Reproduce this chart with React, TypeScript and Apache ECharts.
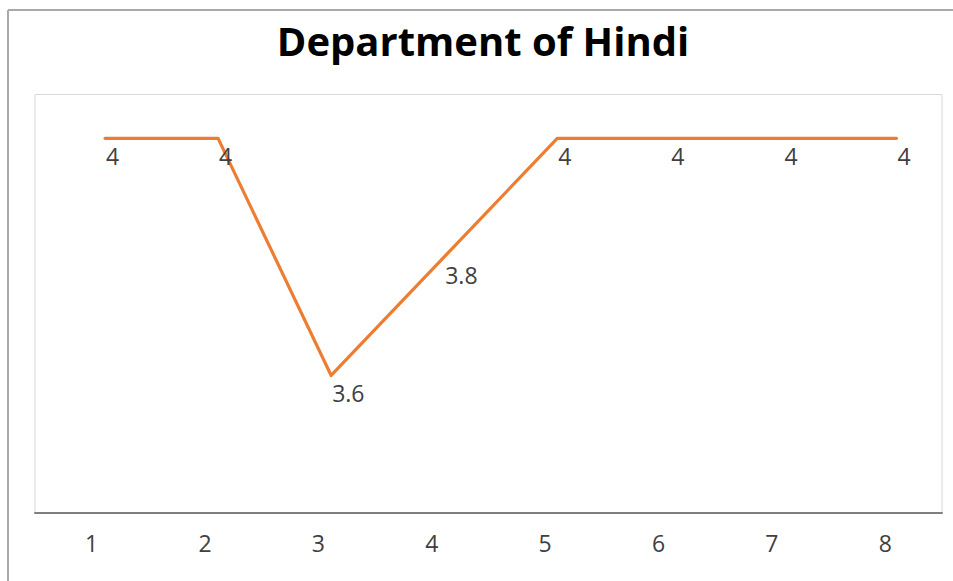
import React, { useEffect, useRef } from "react";
import * as echarts from "echarts";

const categories: string[] = ["1", "2", "3", "4", "5", "6", "7", "8"];
const values: number[] = [4, 4, 3.6, 3.8, 4, 4, 4, 4];
const titleText = "Department of Hindi";

export default function App() {
  const ref = useRef<HTMLDivElement>(null);
  useEffect(() => {
    if (!ref.current) return;
    const chart = echarts.init(ref.current, null, { renderer: "svg" });
    const font = "'Open Sans', 'Noto Sans', sans-serif";
    chart.setOption({
      animation: false,
      backgroundColor: "#ffffff",
      title: {
        text: titleText,
        left: 478,
        top: 15,
        textAlign: "center",
        textStyle: { fontFamily: font, fontWeight: "bold", fontSize: 40, color: "#000000" },
      },
      graphic: [
        { type: "line", shape: { x1: 8, y1: 10, x2: 953, y2: 10 }, style: { stroke: "#a9a9a9", lineWidth: 2 } },
        { type: "line", shape: { x1: 8, y1: 10, x2: 8, y2: 581 }, style: { stroke: "#a9a9a9", lineWidth: 2 } },
      ],
      grid: [
        { left: 35, top: 94.5, width: 907, height: 418.5, show: true, borderColor: "#d9d9d9", borderWidth: 1, backgroundColor: "transparent" },
        { left: 48.5, top: 94.5, width: 907, height: 418.5, show: false },
      ],
      xAxis: [
        {
          type: "category",
          gridIndex: 0,
          data: categories,
          boundaryGap: true,
          axisLine: { show: true, lineStyle: { color: "#7f7f7f", width: 2 } },
          axisTick: { show: false },
          axisLabel: { fontFamily: font, fontSize: 23, color: "#404040", margin: 18 },
          splitLine: { show: false },
        },
        {
          type: "category",
          gridIndex: 1,
          data: categories,
          boundaryGap: true,
          show: false,
        },
      ],
      yAxis: [
        { type: "value", gridIndex: 0, show: false, min: 0, max: 1, splitLine: { show: false } },
        { type: "value", gridIndex: 1, show: false, min: 3.368, max: 4.074, splitLine: { show: false } },
      ],
      series: [
        {
          type: "line",
          xAxisIndex: 1,
          yAxisIndex: 1,
          data: values,
          symbol: "circle",
          symbolSize: 1,
          itemStyle: { color: "#ED7D31" },
          lineStyle: { color: "#ED7D31", width: 3.2, cap: "round", join: "round" },
          label: {
            show: true,
            position: "bottom",
            align: "left",
            distance: 5,
            offset: [1, 1],
            fontFamily: font,
            fontSize: 23,
            color: "#404040",
          },
          emphasis: { disabled: true },
        },
      ],
    });
    return () => chart.dispose();
  }, []);
  return (
    <div
      ref={ref}
      style={{ position: "fixed", left: 0, top: 0, width: 953, height: 581 }}
    />
  );
}
